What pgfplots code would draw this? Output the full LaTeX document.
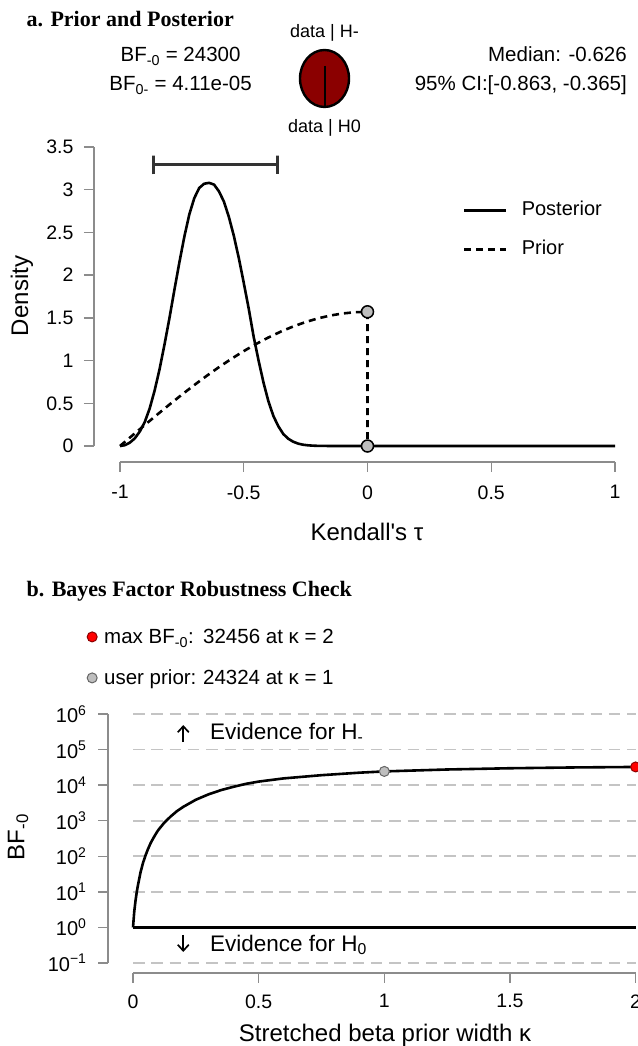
\documentclass[border=0pt]{standalone}
\usepackage{fontspec}
\setmainfont{Liberation Sans}
\newfontfamily\titlefont{Liberation Serif}
\usepackage{pgfplots}
\pgfplotsset{compat=1.18}
\usetikzlibrary{arrows.meta}

\definecolor{axisgray}{HTML}{8C8C8C}
\definecolor{gridgray}{HTML}{C4C4C4}
\definecolor{piered}{HTML}{8B0000}
\definecolor{dotgray}{HTML}{BEBEBE}
\newcommand{\fs}[1]{\fontsize{#1}{#1}\selectfont}

% posterior and prior density of Kendall's tau
\pgfplotstableread{
tau dens
-1.00 0
-0.98 0.01
-0.96 0.04
-0.94 0.09
-0.92 0.17
-0.90 0.28
-0.88 0.44
-0.86 0.65
-0.84 0.90
-0.82 1.19
-0.80 1.50
-0.78 1.83
-0.76 2.15
-0.74 2.45
-0.72 2.71
-0.70 2.90
-0.68 3.02
-0.66 3.07
-0.64 3.08
-0.62 3.06
-0.60 2.98
-0.58 2.86
-0.56 2.68
-0.54 2.46
-0.52 2.20
-0.50 1.91
-0.48 1.61
-0.46 1.28
-0.44 1.00
-0.42 0.74
-0.40 0.52
-0.38 0.35
-0.36 0.23
-0.34 0.14
-0.32 0.085
-0.30 0.05
-0.28 0.028
-0.26 0.015
-0.24 0.008
-0.22 0.004
-0.20 0.002
-0.15 0.0003
0.00 0
1.00 0
}\posterior

\pgfplotstableread{
tau dens
-1.00 0
-0.95 0.1232
-0.90 0.2457
-0.85 0.3667
-0.80 0.4854
-0.75 0.6011
-0.70 0.7132
-0.65 0.8208
-0.60 0.9233
-0.55 1.0201
-0.50 1.1107
-0.45 1.1944
-0.40 1.2708
-0.35 1.3393
-0.30 1.3996
-0.25 1.4512
-0.20 1.4939
-0.15 1.5274
-0.10 1.5514
-0.05 1.5660
0.00 1.5708
0.00 0
}\prior

% Bayes factor against prior width kappa
\pgfplotstableread{
kappa bf
0 1
0.005 2.82
0.01 5.62
0.015 10
0.02 15.8
0.03 35.5
0.04 66.1
0.05 107
0.06 162
0.07 234
0.08 316
0.09 417
0.1 540
0.125 891
0.15 1318
0.175 1862
0.2 2455
0.25 3890
0.3 5495
0.35 7244
0.4 9000
0.45 10900
0.5 12589
0.6 15488
0.75 19055
0.9 22387
1 24324
1.25 27542
1.5 29854
1.75 31405
2 32456
}\robust

\begin{document}
\begin{tikzpicture}
% panel a header
\node[anchor=base west, inner sep=0] at (26.5pt,1019.3pt) {\titlefont\bfseries\fs{22}a. Prior and Posterior};
\node[anchor=base, inner sep=0] at (180.6pt,984pt) {\fs{20.5}BF\textsubscript{-0} = 24300};
\node[anchor=base, inner sep=0] at (180.6pt,955pt) {\fs{20.5}BF\textsubscript{0-} = 4.11e-05};
\node[anchor=base east, inner sep=0] at (627pt,984pt) {\fs{20.5}Median: -0.626};
\node[anchor=base east, inner sep=0] at (627pt,955pt) {\fs{20.5}95\% CI:[-0.863, -0.365]};
\node[anchor=base, inner sep=0] at (324.5pt,1008pt) {\fs{18}data | H-};
\node[anchor=base, inner sep=0] at (324.5pt,913pt) {\fs{18}data | H0};
\fill[piered] (324.5pt,967.5pt) ellipse [x radius=24.5pt, y radius=28.5pt];
\draw[black, line width=2.4pt] (324.5pt,967.5pt) ellipse [x radius=24.5pt, y radius=28.5pt];
\draw[black, line width=2pt] (325pt,980pt) -- (325pt,939pt);

% panel b header
\node[anchor=base west, inner sep=0] at (26.5pt,449.3pt) {\titlefont\bfseries\fs{22}b. Bayes Factor Robustness Check};

\begin{axis}[
  at={(94pt,584pt)}, anchor=south west, scale only axis,
  width=530.9pt, height=315pt,
  xmin=-1.105, xmax=1.04, ymin=-0.187, ymax=3.5, clip=false,
  axis x line*=bottom, axis y line*=left, axis line style={draw=none},
  tick align=outside, major tick length=10pt,
  tick style={axisgray, line width=1.3pt},
  xtick={-1,-0.5,0,0.5,1}, xticklabels={-1,-0.5,0,0.5,1},
  ytick={0,0.5,1,1.5,2,2.5,3,3.5}, yticklabels={0,0.5,1,1.5,2,2.5,3,3.5},
  ticklabel style={font=\fs{19.5}},
  xticklabel style={yshift=-10pt}, yticklabel style={xshift=-7pt},
  xlabel={Kendall\textquotesingle s τ}, ylabel={Density},
  label style={font=\fs{24}},
  xlabel style={at={(axis description cs:0.5142,-0.2213)}, anchor=center},
  ylabel style={at={(axis description cs:-0.1356,0.527)}, anchor=center, rotate=0},
  legend style={draw=none, fill=none, at={(axis description cs:0.695,0.8317)},
    anchor=north west, inner sep=0pt, row sep=19pt, column sep=14pt,
    font=\fs{20}, nodes={inner sep=0pt, text height=15pt, text depth=5pt}},
  legend cell align=left,
  legend image code/.code={\draw[#1] (0pt,0pt) -- (42pt,0pt);},
]
\addplot[black, line width=2.6pt, line join=round] table[x=tau, y=dens] {\posterior};
\addlegendentry{Posterior}
\addplot[black, line width=2.6pt, dash pattern=on 7pt off 5pt] table[x=tau, y=dens] {\prior};
\addlegendentry{Prior}
\addplot[black!80, line width=3pt, forget plot] coordinates {
  (-0.863,3.18) (-0.863,3.40) (-0.863,3.29) (-0.365,3.29) (-0.365,3.40) (-0.365,3.18)};
\addplot[only marks, mark=*, mark size=6pt, forget plot,
  mark options={fill=dotgray, draw=black, line width=1.5pt}] coordinates {(0,1.5708) (0,0)};
\draw[axisgray, line width=1.3pt] (axis cs:-1,-0.187) -- (axis cs:1,-0.187);
\draw[axisgray, line width=1.3pt] (axis cs:-1.105,0) -- (axis cs:-1.105,3.5);
\end{axis}

\begin{axis}[
  at={(108pt,73pt)}, anchor=south west, scale only axis,
  width=537.7pt, height=259pt, ymode=log,
  xmin=-0.0995, xmax=2.04, ymin=0.05236, ymax=1e6, clip=false,
  axis x line*=bottom, axis y line*=left, axis line style={draw=none},
  tick align=outside, major tick length=10pt, yminorticks=false,
  tick style={axisgray, line width=1.3pt},
  xtick={0,0.5,1,1.5,2}, xticklabels={0,0.5,1,1.5,2},
  ytick={0.1,1,10,100,1000,10000,100000,1000000},
  yticklabels={10\textsuperscript{−1},10\textsuperscript{0},10\textsuperscript{1},10\textsuperscript{2},
    10\textsuperscript{3},10\textsuperscript{4},10\textsuperscript{5},10\textsuperscript{6}},
  xticklabel style={font=\fs{19.5}, yshift=-8pt},
  yticklabel style={font=\fs{20}, xshift=-8pt},
  xlabel={Stretched beta prior width κ}, ylabel={BF\textsubscript{-0}},
  label style={font=\fs{24}},
  xlabel style={at={(axis description cs:0.5152,-0.2394)}, anchor=center},
  ylabel style={at={(axis description cs:-0.1674,0.525)}, anchor=center, rotate=0},
  legend style={draw=none, fill=none, at={(axis description cs:-0.0391,1.3293)},
    anchor=north west, inner sep=0pt, row sep=21pt, column sep=7pt,
    font=\fs{20.5}, nodes={inner sep=0pt, text height=15pt, text depth=5pt}},
  legend cell align=left,
  legend image code/.code={\draw[#1] plot coordinates {(0pt,2pt)};},
]
\pgfplotsinvokeforeach{-1,0,...,6}{
  \draw[gridgray, line width=1.6pt, dash pattern=on 11.5pt off 6.8pt] (axis cs:0,1e#1) -- (axis cs:2,1e#1);
}
\addplot[black, line width=2.6pt, forget plot] coordinates {(0,1) (2,1)};
\addplot[black, line width=2.6pt, line join=round, forget plot] table[x=kappa, y=bf] {\robust};
\addplot[only marks, mark=*, mark size=5pt,
  mark options={fill=red, draw=red!55!black, line width=1pt}] coordinates {(2,32456)};
\addlegendentry{\makebox[99pt][l]{max BF\textsubscript{-0}:}32456 at κ = 2}
\addplot[only marks, mark=*, mark size=5pt,
  mark options={fill=dotgray, draw=black!60, line width=1pt}] coordinates {(1,24324)};
\addlegendentry{\makebox[99pt][l]{user prior:}24324 at κ = 1}
\draw[black, line width=1.7pt, -{Straight Barb[length=6pt,width=11pt]}] (axis cs:0.2,162181) -- (axis cs:0.2,489779);
\draw[black, line width=1.7pt, -{Straight Barb[length=6pt,width=11pt]}] (axis cs:0.2,0.6166) -- (axis cs:0.2,0.2042);
\node[anchor=base west, inner sep=0, font=\fs{22.5}] at (axis cs:0.306,198000) {Evidence for H\textsubscript{-}};
\node[anchor=base west, inner sep=0, font=\fs{22.5}] at (axis cs:0.306,0.2172) {Evidence for H\textsubscript{0}};
\draw[axisgray, line width=1.3pt] (axis cs:0,0.05236) -- (axis cs:2,0.05236);
\draw[axisgray, line width=1.3pt] (axis cs:-0.0995,0.1) -- (axis cs:-0.0995,1e6);
\end{axis}

\pgfresetboundingbox
\path[use as bounding box] (0,0) rectangle (637pt,1046pt);
\end{tikzpicture}
\end{document}
